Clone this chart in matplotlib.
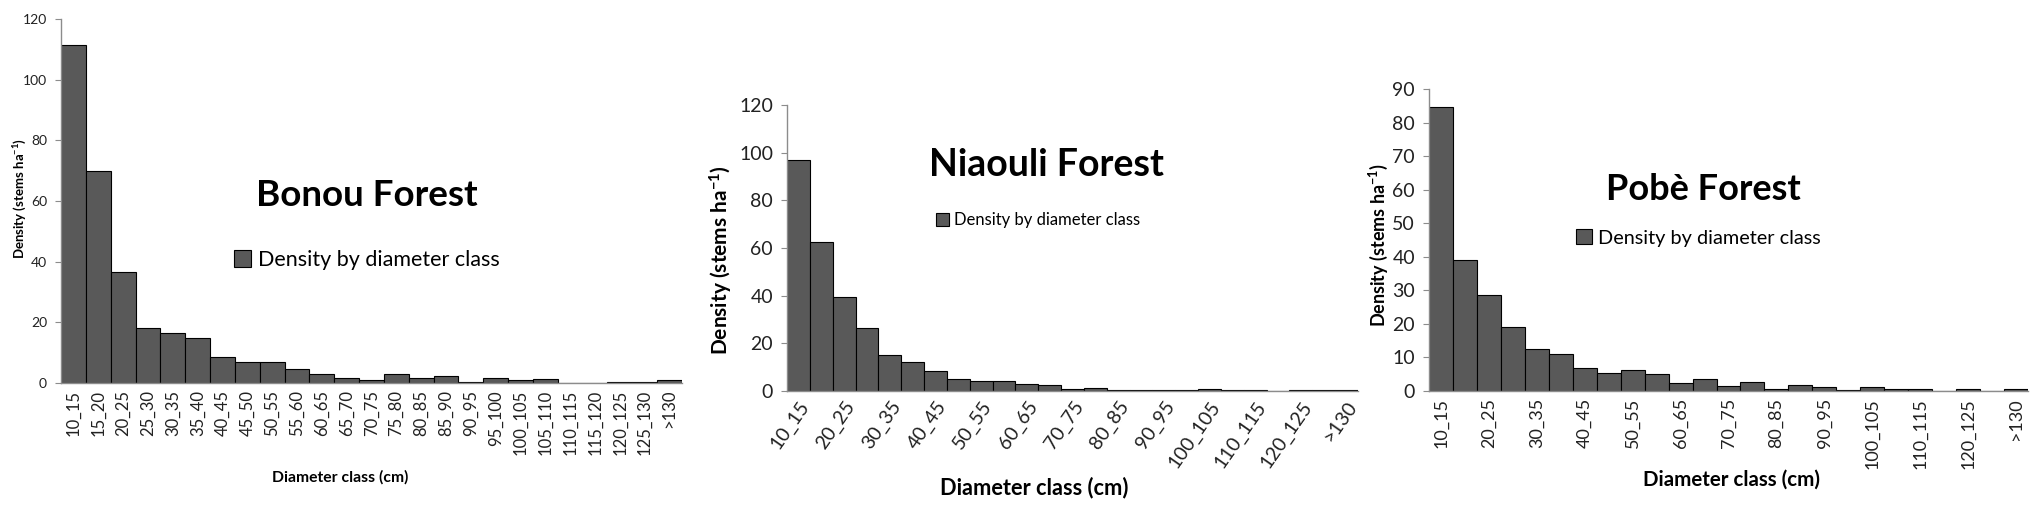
# Density by diameter class for three forests (Bonou, Niaouli, Pobè)

import matplotlib
matplotlib.use("Agg")
import matplotlib.pyplot as plt
import numpy as np

plt.rcParams["font.family"] = ["Lato", "DejaVu Sans"]
plt.rcParams["mathtext.fontset"] = "custom"
plt.rcParams["mathtext.rm"] = "Lato"
plt.rcParams["mathtext.bf"] = "Lato:bold"
plt.rcParams["mathtext.default"] = "bf"

# ------------------------------------------------------------
# Data
# ------------------------------------------------------------

classes = [
    "10_15", "15_20", "20_25", "25_30", "30_35", "35_40", "40_45", "45_50",
    "50_55", "55_60", "60_65", "65_70", "70_75", "75_80", "80_85", "85_90",
    "90_95", "95_100", "100_105", "105_110", "110_115", "115_120",
    "120_125", "125_130", ">130",
]

bonou = [111.5, 70, 36.5, 18, 16.5, 15, 8.5, 7, 7, 4.5, 3, 1.6, 0.9, 3,
         1.7, 2.3, 0.3, 1.5, 1, 1.2, 0, 0, 0.3, 0.3, 1.1]

niaouli = [97, 62.5, 39.5, 26.5, 15, 12.2, 8.2, 5, 4, 4, 2.8, 2.5, 0.8, 1.4,
           0.4, 0.3, 0.3, 0.3, 0.7, 0.3, 0.3, 0, 0.3, 0.4, 0.3]

pobe = [84.5, 39, 28.5, 19, 12.5, 11, 7, 5.5, 6.2, 5, 2.5, 3.6, 1.6, 2.7,
        0.5, 1.7, 1.2, 0.4, 1.3, 0.6, 0.5, 0.1, 0.6, 0, 0.7]

# ------------------------------------------------------------
# Layout (pixels of the 2031x509 canvas)
# ------------------------------------------------------------

W, H = 2031, 509
BAR_COLOR = "#595959"
AXIS_COLOR = "#8c8c8c"


def px_rect(left, top, right, bottom):
    return [left / W, 1 - bottom / H, (right - left) / W, (bottom - top) / H]


def fx(x):
    return x / W


def fy(y):
    return 1 - y / H


fig = plt.figure(figsize=(W / 100, H / 100), dpi=100)

panels = [
    dict(values=bonou, title="Bonou Forest", rect=(61, 19, 682, 383), ymax=120, ystep=20,
         yt_size=10, xt_size=12, every=1, rot=90,
         title_xy=(367, 196), title_size=26.5,
         leg_xy=(234, 260), leg_size=15.5,
         ylab_xy=(20, 198), ylab_size=9.5,
         xlab_xy=(340, 477), xlab_size=11.3),
    dict(values=niaouli, title="Niaouli Forest", rect=(787, 105, 1358, 391), ymax=120, ystep=20,
         yt_size=14, xt_size=14, every=2, rot=55,
         title_xy=(1046, 165), title_size=27,
         leg_xy=(936, 220), leg_size=12,
         ylab_xy=(721, 260), ylab_size=15,
         xlab_xy=(1034, 488), xlab_size=15.7),
    dict(values=pobe, title="Pobè Forest", rect=(1429, 89, 2028, 391), ymax=90, ystep=10,
         yt_size=14, xt_size=13, every=2, rot=90,
         title_xy=(1703, 190), title_size=26,
         leg_xy=(1576, 238), leg_size=14.3,
         ylab_xy=(1378, 245), ylab_size=13,
         xlab_xy=(1732, 480), xlab_size=14.8),
]

for p in panels:
    ax = fig.add_axes(px_rect(*p["rect"]))
    x = np.arange(len(classes))
    bars = ax.bar(x, p["values"], width=1.0, color=BAR_COLOR, edgecolor="black",
                  linewidth=0.8, label="Density by diameter class")

    ax.set_xlim(-0.5, len(classes) - 0.5)
    ax.set_ylim(0, p["ymax"])
    ax.set_yticks(np.arange(0, p["ymax"] + 1, p["ystep"]))

    ticks = x[::p["every"]]
    ax.set_xticks(ticks)
    if p["rot"] == 90:
        ax.set_xticklabels([classes[i] for i in ticks], rotation=90,
                           fontsize=p["xt_size"], color="#222222")
    else:
        ax.set_xticklabels([classes[i] for i in ticks], rotation=p["rot"],
                           ha="right", va="top", rotation_mode="anchor",
                           fontsize=p["xt_size"], color="#222222")

    for s in ["top", "right"]:
        ax.spines[s].set_visible(False)
    for s in ["left", "bottom"]:
        ax.spines[s].set_color(AXIS_COLOR)
        ax.spines[s].set_linewidth(1.0)
    ax.tick_params(axis="y", length=4, color=AXIS_COLOR, labelsize=p["yt_size"],
                   labelcolor="#222222", pad=6)
    ax.tick_params(axis="x", length=0, pad=5)

    fig.text(fx(p["title_xy"][0]), fy(p["title_xy"][1]), p["title"],
             fontsize=p["title_size"], fontweight="bold", ha="center", va="center")

    fig.text(fx(p["ylab_xy"][0]), fy(p["ylab_xy"][1]), "Density (stems ha$^{-1}$)",
             fontsize=p["ylab_size"], fontweight="bold", rotation=90,
             ha="center", va="center")
    fig.text(fx(p["xlab_xy"][0]), fy(p["xlab_xy"][1]), "Diameter class (cm)",
             fontsize=p["xlab_size"], fontweight="bold", ha="center", va="center")

    ax.legend(handles=[bars], loc="center left",
              bbox_to_anchor=(fx(p["leg_xy"][0]), fy(p["leg_xy"][1])),
              bbox_transform=fig.transFigure, frameon=False,
              fontsize=p["leg_size"], handlelength=0.8, handleheight=0.8,
              handletextpad=0.3, borderpad=0, borderaxespad=0)

fig.savefig("out.png", dpi=100)
